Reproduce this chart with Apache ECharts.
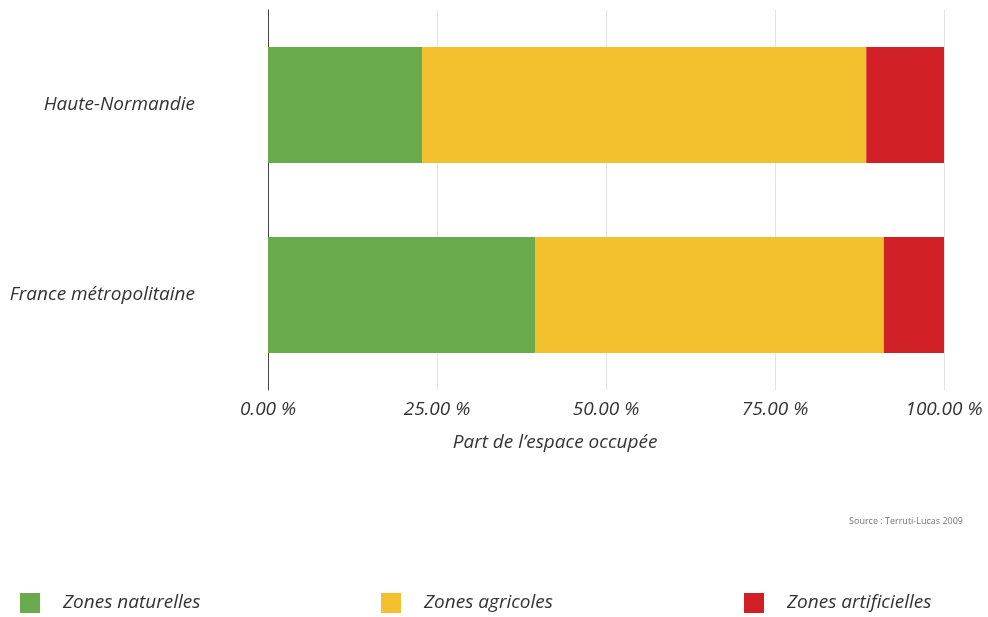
<!DOCTYPE html>
<html><head><meta charset="utf-8">
<script src="https://cdn.jsdelivr.net/npm/echarts@6/dist/echarts.min.js"></script>
<style>html,body{margin:0;padding:0;background:#fff}#c{width:988px;height:617px}</style>
</head><body><div id="c"></div>
<script>
const categories = ['Haute-Normandie', 'France métropolitaine'];
const seriesNames = ['Zones naturelles', 'Zones agricoles', 'Zones artificielles'];
const naturelles = [22.8, 39.5];
const agricoles = [65.7, 51.6];
const artificielles = [11.5, 8.9];
const tickValues = [0, 25, 50, 75, 100];
const colors = ['#69ab4c', '#f2c12d', '#d11f26'];
const values = [naturelles, agricoles, artificielles];

const font = '"Open Sans", "Noto Sans", sans-serif';
const chart = echarts.init(document.getElementById('c'));
const legendLefts = [20, 381, 744];
chart.setOption({
  animation: false,
  grid: {left: 268, right: 44, top: 10, bottom: 227, containLabel: false},
  xAxis: {
    type: 'value', min: 0, max: 100, interval: 25,
    axisLine: {show: false}, axisTick: {show: false},
    splitLine: {lineStyle: {color: '#e3e3e3', width: 1}},
    axisLabel: {margin: 10, fontFamily: font, fontStyle: 'italic', fontSize: 19, color: '#333',
      formatter: v => v.toFixed(2) + ' %'},
    name: 'Part de l\u2019espace occupée', nameLocation: 'middle', nameGap: 43,
    nameTextStyle: {fontFamily: font, fontStyle: 'italic', fontSize: 19, color: '#333', padding: [0, 102, 0, 0]}
  },
  yAxis: {
    type: 'category', data: categories, inverse: true,
    axisLine: {show: true, lineStyle: {color: '#444', width: 1}},
    axisTick: {show: false},
    axisLabel: {margin: 73, fontFamily: font, fontStyle: 'italic', fontSize: 19, color: '#333'}
  },
  legend: legendLefts.map((l, i) => ({
    data: [seriesNames[i]], left: l, top: 593, padding: 0, itemWidth: 20, itemHeight: 20, itemGap: 0,
    icon: 'rect', selectedMode: false,
    textStyle: {fontFamily: font, fontStyle: 'italic', fontSize: 19, color: '#333', padding: [0, 0, 0, 18]}
  })),
  graphic: [{type: 'text', right: 25, top: 517,
    style: {text: 'Source : Terruti-Lucas 2009', fontFamily: font, fontSize: 9, fill: '#777'}}],
  series: seriesNames.map((n, i) => ({
    name: n, type: 'bar', stack: 'total', data: values[i], barWidth: '61%',
    itemStyle: {color: colors[i]}
  }))
});
</script></body></html>
